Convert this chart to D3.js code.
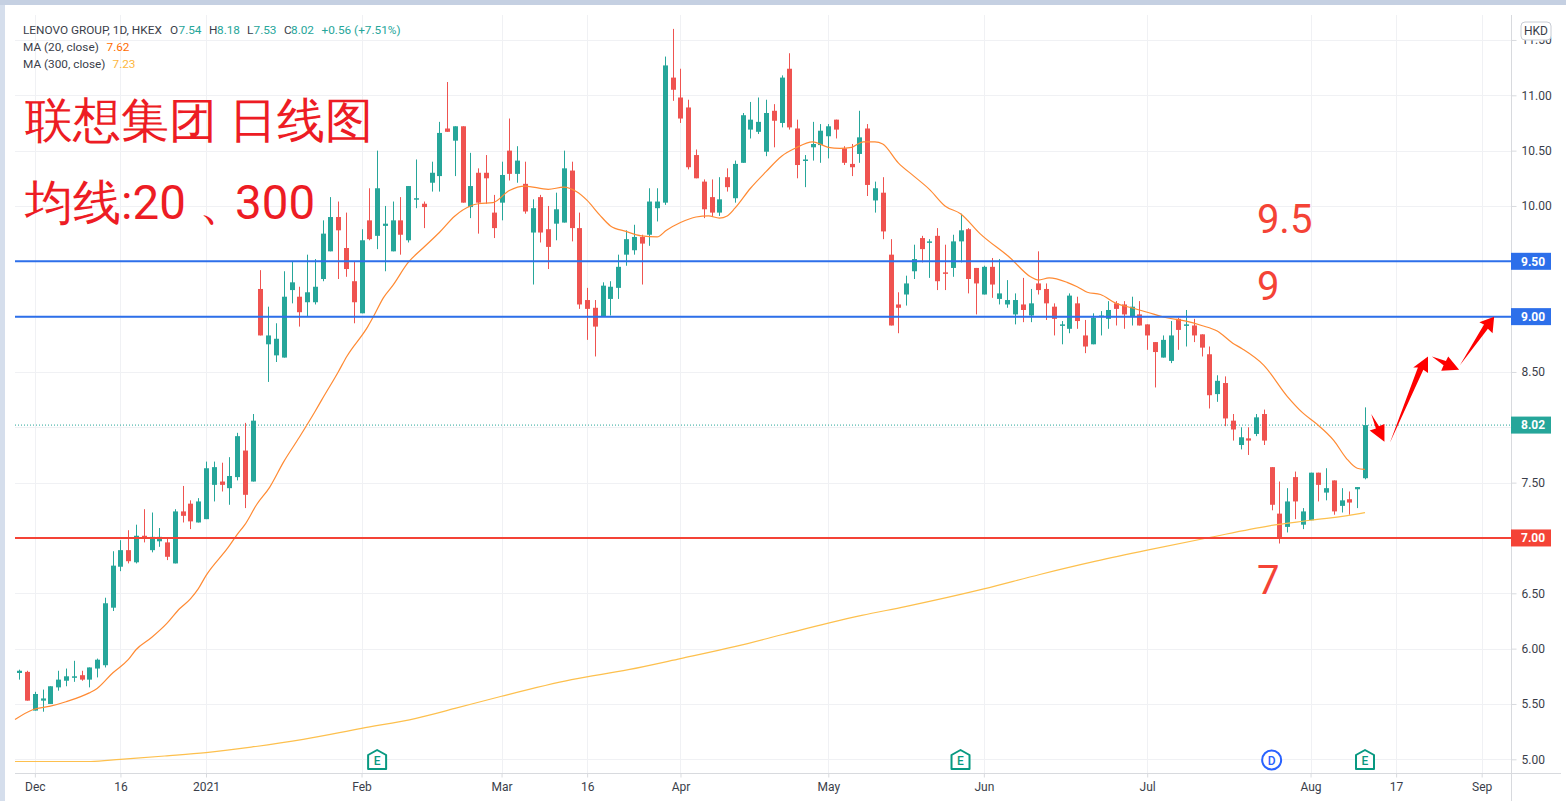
<!DOCTYPE html>
<html>
<head>
<meta charset="utf-8">
<script src="https://cdnjs.cloudflare.com/ajax/libs/d3/7.8.5/d3.min.js"></script>
<style>
  html, body { margin: 0; padding: 0; background: #fff; overflow: hidden; }
  svg { display: block; }
  text { font-family: Roboto, sans-serif; }
</style>
</head>
<body>
<svg id="chart" width="1566" height="801"></svg>
<script>
// daily candles, Dec 2020 to Aug 2021
const opens = [
  5.78,5.79,5.44,5.53,5.50,5.65,5.71,5.74,5.76,5.72,
  5.82,5.85,6.37,6.74,6.89,6.78,7.02,6.89,6.97,6.96,
  6.77,7.24,7.31,7.14,7.17,7.48,7.51,7.45,7.55,7.79,
  7.51,9.25,8.75,8.65,8.63,9.24,9.18,9.13,9.13,9.34,
  9.59,9.90,9.62,9.32,9.03,9.87,9.73,9.82,9.59,9.87,
  9.69,10.06,10.02,10.21,10.27,10.70,10.59,10.72,9.99,10.30,
  10.30,9.94,10.03,10.50,10.29,10.20,9.76,10.08,9.79,9.84,
  9.85,10.32,9.80,9.15,9.08,9.00,9.16,9.26,9.56,9.60,
  9.72,9.74,9.98,10.03,11.16,10.98,10.89,10.46,10.22,10.08,
  9.94,10.26,10.07,10.39,10.69,10.67,10.49,10.86,10.75,11.24,
  10.70,10.41,10.53,10.55,10.63,10.78,10.52,10.38,10.47,10.70,
  10.05,10.12,9.56,9.11,9.20,9.41,9.71,9.67,9.73,9.40,
  9.44,9.68,9.79,9.44,9.20,9.45,9.16,9.11,9.02,9.11,
  9.01,9.30,9.25,9.09,8.92,8.89,9.12,8.83,8.75,9.00,
  8.98,9.12,9.11,9.00,9.02,8.93,8.77,8.63,8.60,8.98,
  8.92,8.92,8.84,8.66,8.30,8.40,8.06,7.84,7.90,7.94,
  8.12,7.64,7.22,7.10,7.55,7.12,7.16,7.59,7.41,7.52,
  7.29,7.35,7.44,7.54
];
const highs = [
  5.81,5.80,5.61,5.63,5.66,5.80,5.82,5.89,5.80,5.83,
  5.91,6.46,6.88,6.98,7.07,7.12,7.26,7.23,7.09,7.00,
  7.26,7.47,7.34,7.36,7.69,7.69,7.68,7.73,7.95,8.04,
  8.12,9.42,9.09,8.94,9.41,9.50,9.27,9.56,9.52,9.87,
  10.08,10.04,9.94,9.50,9.79,10.16,10.50,10.00,10.04,10.08,
  10.18,10.42,10.04,10.40,10.76,11.12,10.72,10.72,10.48,10.34,
  10.46,10.10,10.40,10.79,10.54,10.40,10.06,10.10,10.00,10.12,
  10.50,10.40,9.94,9.26,9.15,9.31,9.32,9.56,9.78,9.83,
  9.74,10.16,10.16,11.35,11.60,11.24,10.96,10.51,10.24,10.24,
  10.26,10.34,10.41,10.84,10.94,10.98,10.96,10.92,11.18,11.38,
  10.78,10.46,10.76,10.74,10.74,10.78,10.54,10.56,10.86,10.74,
  10.22,10.26,9.70,9.22,9.37,9.65,9.73,9.70,9.80,9.65,
  9.74,9.93,9.80,9.44,9.46,9.53,9.52,9.33,9.21,9.35,
  9.25,9.59,9.30,9.12,8.96,9.21,9.18,8.97,9.03,9.05,
  9.14,9.14,9.14,9.18,9.14,8.93,8.77,8.83,8.96,8.99,
  9.06,8.98,8.84,8.73,8.47,8.46,8.12,8.00,8.00,8.12,
  8.16,7.64,7.51,7.45,7.60,7.27,7.59,7.59,7.63,7.52,
  7.45,7.42,7.46,8.18
];
const lows = [
  5.72,5.53,5.44,5.43,5.50,5.62,5.66,5.70,5.71,5.65,
  5.74,5.83,6.34,6.70,6.77,6.77,6.96,6.87,6.92,6.80,
  6.77,7.14,7.08,7.14,7.17,7.33,7.42,7.30,7.52,7.27,
  7.51,8.83,8.41,8.59,8.63,9.12,8.91,9.00,9.11,9.32,
  9.59,9.34,9.36,8.94,9.03,9.69,9.61,9.41,9.59,9.56,
  9.67,9.98,9.80,10.13,10.13,10.67,10.27,10.03,9.89,9.75,
  10.02,9.71,9.87,10.23,10.21,9.93,9.29,9.67,9.43,9.69,
  9.85,9.68,9.07,8.79,8.64,9.00,9.01,9.16,9.46,9.56,
  9.29,9.64,9.86,10.01,10.95,10.75,10.33,10.25,9.89,9.90,
  9.91,10.13,10.03,10.39,10.61,10.65,10.45,10.53,10.71,10.69,
  10.25,10.17,10.41,10.39,10.43,10.61,10.37,10.27,10.39,10.09,
  9.94,9.70,8.92,8.85,9.10,9.34,9.49,9.35,9.24,9.24,
  9.36,9.49,9.21,9.02,9.20,9.17,9.11,9.08,8.93,8.95,
  8.95,9.20,8.97,8.83,8.75,8.85,8.89,8.67,8.75,8.83,
  8.89,8.92,8.89,8.92,8.92,8.70,8.36,8.63,8.58,8.70,
  8.73,8.77,8.64,8.17,8.23,8.01,7.88,7.80,7.75,7.92,
  7.84,7.25,6.95,7.05,7.17,7.08,7.16,7.33,7.34,7.21,
  7.23,7.21,7.27,7.53
];
const closes = [
  5.80,5.53,5.59,5.55,5.66,5.72,5.75,5.75,5.72,5.83,
  5.90,6.41,6.75,6.89,6.79,7.02,7.00,7.01,7.01,6.83,
  7.24,7.20,7.15,7.33,7.63,7.64,7.48,7.56,7.92,7.39,
  8.06,8.83,8.83,8.80,9.18,9.31,9.04,9.22,9.27,9.75,
  9.90,9.78,9.43,9.13,9.69,9.70,10.16,9.84,9.87,9.74,
  10.18,10.07,9.99,10.30,10.66,10.67,10.72,10.03,10.18,10.03,
  10.25,9.80,10.28,10.29,10.41,9.95,9.98,9.76,9.63,9.97,
  10.34,9.80,9.11,9.07,8.91,9.28,9.27,9.45,9.70,9.72,
  9.66,10.04,10.04,11.27,11.05,10.79,10.35,10.25,9.97,9.94,
  10.06,10.17,10.38,10.82,10.78,10.76,10.84,10.77,11.16,10.71,
  10.37,10.42,10.56,10.68,10.72,10.69,10.39,10.35,10.62,10.19,
  10.16,9.77,8.92,9.08,9.30,9.52,9.61,9.68,9.32,9.39,
  9.68,9.78,9.34,9.30,9.45,9.29,9.21,9.15,9.15,9.06,
  9.12,9.24,9.12,8.98,8.93,9.19,8.96,8.73,8.99,9.01,
  9.06,9.07,9.02,9.09,8.92,8.83,8.68,8.79,8.83,8.88,
  8.93,8.83,8.72,8.29,8.42,8.08,7.98,7.91,7.88,8.09,
  7.88,7.30,7.00,7.33,7.33,7.24,7.59,7.48,7.45,7.24,
  7.34,7.32,7.46,8.02
];

// moving averages, read at selected bars as [bar, value]
const ma20 = [
  [-0.55,5.36],[1.8,5.45],[4,5.48],[6,5.52],[9,5.60],[10,5.64],[12,5.78],[14,5.90],[15,5.99],[17,6.10],
  [19,6.23],[20.6,6.36],[22,6.45],[23,6.54],[24,6.66],[26.8,6.91],[28,7.03],[29,7.12],[30.5,7.30],[32.2,7.46],
  [34,7.69],[36,7.91],[38,8.14],[38.9,8.25],[41,8.50],[42.1,8.64],[44.8,8.91],[45.6,9.01],[46.8,9.17],[48,9.28],
  [50,9.49],[51.9,9.62],[54,9.76],[56,9.91],[58,10.00],[59,10.02],[60.9,10.03],[63,10.14],[65,10.18],[68,10.15],
  [70,10.17],[71.6,10.13],[73,10.05],[74.6,9.92],[76,9.82],[78,9.77],[80,9.73],[82,9.72],[83.2,9.78],[85,9.85],
  [87,9.90],[88.6,9.91],[90,9.89],[91,9.91],[92,9.98],[94,10.16],[96,10.31],[98,10.45],[99.7,10.52],[102,10.58],
  [104,10.53],[105.5,10.52],[107,10.53],[108.5,10.58],[110,10.58],[111,10.56],[113,10.39],[115,10.27],[117,10.15],[119,10.00],
  [121,9.93],[123.5,9.75],[127.4,9.53],[130,9.36],[131,9.33],[132.4,9.35],[134.7,9.31],[136,9.27],[137.3,9.22],[139,9.20],
  [141,9.12],[143,9.08],[145,9.04],[147.5,8.99],[150,8.96],[152,8.92],[154,8.87],[156,8.76],[157.2,8.71],[160,8.56],
  [163,8.28],[165,8.13],[166.8,8.03],[169,7.88],[170.6,7.72],[172,7.63],[173,7.62]
];
const ma300 = [
  [-0.55,4.98],[9.2,4.98],[13,5.00],[18.7,5.03],[24,5.06],[29.8,5.11],[36.5,5.18],[44,5.28],[51,5.37],[56,5.46],
  [62,5.57],[71,5.72],[78.3,5.81],[85,5.91],[92.1,6.02],[98.3,6.13],[104,6.23],[108.3,6.30],[113.9,6.38],[124,6.54],
  [131.2,6.67],[138.4,6.79],[145,6.89],[152.7,7.00],[160.7,7.11],[166,7.16],[172.3,7.22],[173,7.23]
];

const priceTicks = [5,5.5,6,6.5,7,7.5,8,8.5,9,9.5,10,10.5,11,11.5];
const timeTickBars = [2,13,24,44,62,73,85,104,124,145,166,177,188];
const timeTickLabels = ['Dec','16','2021','Feb','Mar','16','Apr','May','Jun','Jul','Aug','17','Sep'];

const levelPrices = [9.5,9,7];
const levelNames = ['9.5','9','7'];
const levelNameAt = [9.76,9.15,6.49];
const earningsBars = [46,121,173];
const dividendBars = [161];
const lastClose = 8.02;

// hand drawn arrows in [bar, price]
const arrows = [
  [[173.8,8.12],[174.8,8.01],[175.5,8.03],[175.5,7.87],[173.6,7.97],[174.4,7.99]],
  [[176.2,7.86],[179.8,8.54],[179.2,8.54],[181.1,8.64],[181.1,8.49],[180.5,8.52]],
  [[181.6,8.64],[183.4,8.60],[183.7,8.64],[185.1,8.52],[182.8,8.51],[183.1,8.56]],
  [[185.2,8.56],[188.3,8.93],[187.7,8.95],[189.6,9.00],[189.4,8.85],[188.8,8.89]]
];

const green = '#26a69a', red = '#ef5350', blueLine = '#2d6fea', redLine = '#f44336';
const orange = '#ff8a33', yellow = '#fdc04e';
const gridColor = '#f0f1f4', axisColor = '#d8dade', textColor = '#3a3e4a';

const plotLeft = 15, plotRight = 1511, plotTop = 15, plotBottom = 773;

const svg = d3.select('#chart');
const x = d3.scaleLinear().domain([0,173]).range([19.3,1365]);
const y = d3.scaleLinear().domain([5,11]).range([759.3,95.3]);

// window frame
svg.append('rect').attr('width',1566).attr('height',5).attr('fill','#c5d0e2');
svg.append('rect').attr('y',5).attr('width',5).attr('height',796).attr('fill','#d5deec');

// grid
svg.selectAll('.hgrid').data(priceTicks).enter().append('line')
  .attr('x1',plotLeft).attr('x2',plotRight)
  .attr('y1',d => Math.round(y(d))+0.5).attr('y2',d => Math.round(y(d))+0.5)
  .attr('stroke',gridColor);
svg.selectAll('.vgrid').data(timeTickBars).enter().append('line')
  .attr('x1',d => Math.round(x(d))+0.5).attr('x2',d => Math.round(x(d))+0.5)
  .attr('y1',plotTop).attr('y2',plotBottom)
  .attr('stroke',gridColor);

// last price dotted line
svg.append('line')
  .attr('x1',plotLeft).attr('x2',plotRight)
  .attr('y1',y(lastClose)).attr('y2',y(lastClose))
  .attr('stroke',green).attr('stroke-dasharray','1 2');

// candles
const bars = d3.range(opens.length);
const barColor = i => closes[i] >= opens[i] ? green : red;
svg.selectAll('.wick').data(bars).enter().append('line')
  .attr('x1',i => Math.round(x(i))+0.5).attr('x2',i => Math.round(x(i))+0.5)
  .attr('y1',i => y(highs[i])).attr('y2',i => y(lows[i]))
  .attr('stroke',barColor).attr('stroke-width',1);
svg.selectAll('.body').data(bars).enter().append('rect')
  .attr('x',i => Math.round(x(i))-2)
  .attr('width',5)
  .attr('y',i => y(Math.max(opens[i],closes[i])))
  .attr('height',i => Math.max(1.5,Math.abs(y(opens[i])-y(closes[i]))))
  .attr('fill',barColor);

// moving averages
const maLine = d3.line().x(d => x(d[0])).y(d => y(d[1])).curve(d3.curveMonotoneX);
svg.append('path').attr('d',maLine(ma300)).attr('fill','none').attr('stroke',yellow).attr('stroke-width',1.2);
svg.append('path').attr('d',maLine(ma20)).attr('fill','none').attr('stroke',orange).attr('stroke-width',1.2);

// horizontal levels
svg.selectAll('.level').data(levelPrices).enter().append('line')
  .attr('x1',plotLeft).attr('x2',plotRight)
  .attr('y1',d => y(d)).attr('y2',d => y(d))
  .attr('stroke',d => d === 7 ? redLine : blueLine).attr('stroke-width',2);

// level notes
svg.selectAll('.note').data(levelNames).enter().append('text')
  .attr('x',x(159.1)).attr('y',(d,i) => y(levelNameAt[i]))
  .attr('fill',redLine).attr('font-size',40).text(d => d);

// arrows
const arrowPath = d3.line().x(d => x(d[0])).y(d => y(d[1])).curve(d3.curveLinearClosed);
svg.selectAll('.arrow').data(arrows).enter().append('path')
  .attr('d',arrowPath).attr('fill','#fe0000');

// axes
const yAxis = d3.axisRight(y).tickValues(priceTicks).tickFormat(d3.format('.2f')).tickSize(5).tickPadding(5);
const xAxis = d3.axisBottom(x).tickValues(timeTickBars).tickFormat((d,i) => timeTickLabels[i]).tickSize(4).tickPadding(5);
const yG = svg.append('g').attr('transform',`translate(${plotRight+0.5},0)`).call(yAxis);
const xG = svg.append('g').attr('transform',`translate(0,${plotBottom+0.5})`).call(xAxis);
yG.select('.domain').remove();
xG.select('.domain').remove();
svg.append('line').attr('x1',plotRight+0.5).attr('x2',plotRight+0.5).attr('y1',plotTop).attr('y2',801).attr('stroke',axisColor);
svg.append('line').attr('x1',plotLeft).attr('x2',1561).attr('y1',plotBottom+0.5).attr('y2',plotBottom+0.5).attr('stroke',axisColor);
[yG,xG].forEach(g => {
  g.selectAll('line').attr('stroke',axisColor);
  g.selectAll('text').attr('fill',textColor).attr('font-size',12).attr('font-family','Roboto, sans-serif');
});

// price labels on the axis
const priceLabels = [[9.5,blueLine],[9,blueLine],[lastClose,green],[7,redLine]];
priceLabels.forEach(p => {
  svg.append('rect').attr('x',plotRight).attr('y',y(p[0])-8.5).attr('width',40).attr('height',17).attr('fill',p[1]);
  svg.append('text').attr('x',plotRight+10).attr('y',y(p[0])+4.3)
    .attr('fill','#fff').attr('font-size',12).attr('font-weight',700).text(p[0].toFixed(2));
});

// currency badge, sits on the 11.50 label like the original
svg.append('rect').attr('x',1521).attr('y',22).attr('width',30).attr('height',18).attr('rx',4)
  .attr('fill','#fff').attr('stroke','#c8ccd4');
svg.append('text').attr('x',1536).attr('y',35).attr('text-anchor','middle')
  .attr('fill',textColor).attr('font-size',12).text('HKD');

// event markers
const eMark = svg.selectAll('.earn').data(earningsBars).enter().append('g')
  .attr('transform',d => `translate(${x(d)},0)`);
eMark.append('path').attr('d','M-9,769 V755 L0,750 L9,755 V769 Z')
  .attr('fill','#fff').attr('stroke','#089981').attr('stroke-width',2).attr('stroke-linejoin','round');
eMark.append('text').attr('y',765).attr('text-anchor','middle').attr('fill','#089981')
  .attr('font-size',12).attr('font-weight',500).text('E');
const dMark = svg.selectAll('.div').data(dividendBars).enter().append('g')
  .attr('transform',d => `translate(${x(d)},0)`);
dMark.append('circle').attr('cy',760).attr('r',9.5).attr('fill','#fff').attr('stroke','#2962ff').attr('stroke-width',2);
dMark.append('text').attr('y',764.5).attr('text-anchor','middle').attr('fill','#2962ff')
  .attr('font-size',12).attr('font-weight',500).text('D');

// legend
const legendRows = [
  [23,34,'LENOVO GROUP, 1D, HKEX',textColor],
  [170,34,'O',textColor],[178.5,34,'7.54',green],
  [209,34,'H',textColor],[217,34,'8.18',green],
  [247,34,'L',textColor],[253.5,34,'7.53',green],
  [284,34,'C',textColor],[291,34,'8.02',green],
  [321.5,34,'+0.56 (+7.51%)',green],
  [23,51,'MA (20, close)',textColor],[106.5,51,'7.62','#ff6d00'],
  [23,67.5,'MA (300, close)',textColor],[112.5,67.5,'7.23','#fdb73e']
];
svg.selectAll('.legend').data(legendRows).enter().append('text')
  .attr('x',d => d[0]).attr('y',d => d[1]).attr('fill',d => d[3])
  .attr('font-size',11.8).text(d => d[2]);

// big title
const titleFont = '"Noto Sans CJK SC", sans-serif';
svg.append('text').attr('x',25).attr('y',137).attr('fill','#ed1c24')
  .attr('font-family',titleFont).attr('font-size',47.5).text('联想集团 日线图');
const subTitle = svg.append('text').attr('y',218.5).attr('fill','#ed1c24')
  .attr('font-family',titleFont).attr('font-size',47.5);
subTitle.append('tspan').attr('x',25).text('均线:20');
subTitle.append('tspan').attr('x',199).text('、');
subTitle.append('tspan').attr('x',235).text('300');
</script>
</body>
</html>
